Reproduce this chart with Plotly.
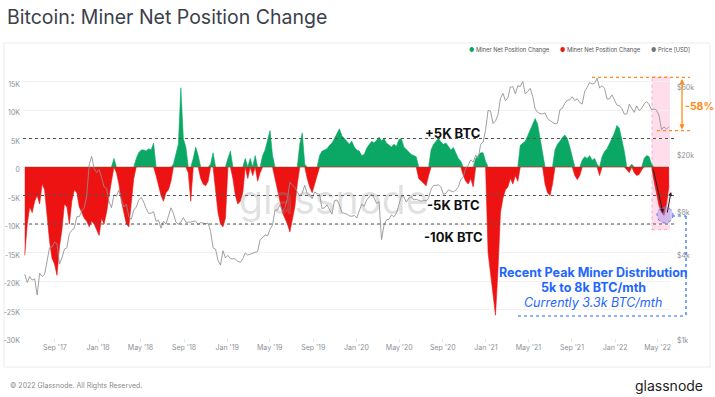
import plotly.graph_objects as go
import pandas as pd

# ---------------- data (weekly, starting 2017-06-08) ----------------
start_date = "2017-06-08"

# Miner net position change, thousands of BTC (30d change)
net_position_k = [
    -15.5, -10, -7, -8, -6, -5, -6.5, -3, -4,
    -9, -13, -16, -17, -19, -14, -11,
    -6.5, -7, -10, -6, -4, -4.5,
    -7, -8, -9, -9.5, -10.5, -9.5, -10, -11, -12, -9, -10, -8, -5,
    -2.5, 1.5, -1, -3, -6, -8, -10, -10.5, -6, -2,
    1.5, 2.5, 3, 3, 2.8, 3.2, 3, 4.2,
    -1.5, -3.5, -5, -6, -4.5, -4, -2.5, 0.5,
    2.5, 4, 13.9, 5, 3.5, -1, -6,
    1.5, 3.5, 2,
    -2, -3, -3.3, -2.5, 0.5,
    2.5,
    -4, -8, -10, -10.5, -9,
    1.5, 2.8,
    -2, -5, -6.5, -6, -4.5,
    1.5, -2, 1.5, -1.5, 2, -2.5, -1,
    2, 3, 4.5, 6.4, 2,
    -2, -4, -6, -8, -9, -10, -11.4, -9, -7, -3,
    4, 6, 0.5,
    -2, -3.5, -4.5, -3, -1.5,
    2, 2.8, 3, 3.2, 3.8, 4.2, 5, 5.8, 6.7, 5.5, 5, 4.5, 4, 4.5, 3.5, 3, 2.8,
    2, 2.2, 3.3, 4, 4.5, 4.2, 4.8, 5.2, 4.6, 5, 4.2, 3.8, 3.5, 4, 3.6, 4.8, 5, 3.5, 3, 2.5, 2.2, 2, 1.8,
    -2, -2.5, -3, -3.3, -1.5,
    3, 4, 4.5, 5, 4.4, 4, 4.2, 3.5, 3, 3.4, 2.5, 1.5,
    1, -1.5, -2.5, -3, -2, -3.5, 1.5, 2, 2.5, 2.5, 1,
    -15, -19, -22, -26, -18, -8, -5.5, -4, -3.5,
    -2, -3, -1.5, -2.5,
    3.8, 4.2, 4.5, 5.5, 6.5, 7.5, 8.5, 7.5, 5, 2,
    -3, -4.5, -5, -3,
    3, 4, 4.5, 5.2, 5.6, 5, 3.5, 1.5,
    -1.5, -2.2, -1.5,
    1.2, 1.8, 1.5, 2, 1.2, 1.5, 0.5, -1.5,
    1.8, 2.7, 3.2, 4, 5, 6, 7.3, 6.8, 5, 2.7,
    -0.5, -1, 0.5, -1, -1.5, -1.3, -0.5,
    1.5, 2, 1.8, 0.5,
    -2.5, -5, -6.8, -8, -8.5, -6.5, -3.3,
]

# BTC price (USD), weekly
price_usd = [
    # 2017
    2800, 2450, 2700, 2550, 2600, 2000, 2850, 2700, 2800, 3400, 4300, 4350, 4700,
    4600, 3300, 3650, 4200, 4300, 5400, 5700, 5900, 7100, 7100, 7800, 8200, 9900,
    16500, 18800, 15500, 14500,
    # 2018
    15200, 13400, 11500, 11200, 9100, 8200, 10100, 9900, 10900, 9400, 8300, 8700, 7100,
    6800, 7900, 8300, 9300, 9700, 9000, 8100, 7500, 7500, 7700, 6600, 6700, 5900,
    6600, 6300, 7300, 8200, 7500, 6500, 6300, 6500, 7000, 6500, 6500, 6500, 6600,
    6600, 6250, 6450, 6400, 6350, 6400, 5600, 4300, 4200, 3500, 3250, 4100, 3650,
    # 2019
    3800, 3600, 3600, 3580, 3450, 3400, 3600, 3950, 3820, 3870, 3900, 4000, 4050,
    4900, 5050, 5300, 5200, 5800, 6200, 7900, 7900, 8600, 7800, 8200, 9500, 12400,
    11900, 11400, 10600, 9900, 10400, 11800, 10300, 10100, 9500, 10600, 10300, 10200, 8100,
    8200, 8600, 8000, 7400, 9200, 9300, 8600, 7600, 7500, 7400, 7200, 7150, 7250,
    # 2020
    6950, 7800, 8700, 8400, 9300, 9750, 10200, 9600, 8800, 9050, 4900, 6200, 6750,
    6800, 7300, 7100, 7500, 8600, 9900, 9800, 9000, 9600, 9800, 9300, 9400, 9250,
    9100, 9250, 9150, 9600, 11100, 11750, 11750, 11850, 11450, 10200, 10350, 10950, 10750,
    10600, 10900, 11500, 12950, 13500, 15600, 16300, 17800, 17100, 19200, 18200, 22800, 23700, 29000,
    # 2021
    39500, 39200, 32000, 33400, 36900, 47900, 52100, 46300, 48400, 57700, 58000, 51700,
    59000, 58100, 63100, 51700, 53600, 56500, 49700, 40600, 38300, 37500, 37400, 38000, 34700,
    33500, 32800, 31800, 32100, 40000, 40900, 44400, 46700, 46800, 49300, 46400, 47700, 44900,
    43800, 53800, 57400, 62200, 60600, 61400, 66500, 56900, 58900, 56500, 47600, 47600, 50800, 47100,
    # 2022
    43100, 42600, 40700, 37200, 37300, 43600, 40500, 38300, 42500, 39400, 40900, 44000,
    45500, 43500, 39900, 40500, 39700, 36500, 28900, 30300, 29200, 30400,
]

x_tick_vals = ["2017-09-01", "2018-01-01", "2018-05-01", "2018-09-01", "2019-01-01",
               "2019-05-01", "2019-09-01", "2020-01-01", "2020-05-01", "2020-09-01",
               "2021-01-01", "2021-05-01", "2021-09-01", "2022-01-01", "2022-05-01"]
x_tick_text = ["Sep '17", "Jan '18", "May '18", "Sep '18", "Jan '19", "May '19", "Sep '19",
               "Jan '20", "May '20", "Sep '20", "Jan '21", "May '21", "Sep '21", "Jan '22", "May '22"]
y_tick_vals = [-30000, -25000, -20000, -15000, -10000, -5000, 0, 5000, 10000, 15000, 20000]
y_tick_text = ["-30K", "-25K", "-20K", "-15K", "-10K", "-5K", "0", "5K", "10K", "15K", ""]
price_tick_vals = [1000, 4000, 8000, 20000, 60000]
price_tick_text = ["$1k", "$4k", "$8k", "$20k", "$60k"]

threshold_levels = [5000, -5000, -10000]
threshold_labels = ["+5K BTC", "-5K BTC", "-10K BTC"]
price_ath = 67500
price_now = 28500

# ---------------- figure ----------------
GREEN = "#0aa864"
RED = "#ee1313"
GRAY_LINE = "#8f8f8f"
BLUE = "#1f66ff"
ORANGE = "#ff8c1a"
FONT = "Inter"

dates = pd.date_range(start_date, periods=len(net_position_k), freq="7D")
pos = [max(v, 0) * 1000 for v in net_position_k]
neg = [min(v, 0) * 1000 for v in net_position_k]

fig = go.Figure()
fig.add_trace(go.Scatter(x=dates, y=pos, mode="lines", fill="tozeroy",
                         line=dict(color=GREEN, width=0.6), fillcolor=GREEN,
                         name="Miner Net Position Change", showlegend=False, hoverinfo="skip"))
fig.add_trace(go.Scatter(x=dates, y=neg, mode="lines", fill="tozeroy",
                         line=dict(color=RED, width=0.6), fillcolor=RED,
                         name="Miner Net Position Change", showlegend=False, hoverinfo="skip"))
fig.add_trace(go.Scatter(x=dates[:len(price_usd)], y=price_usd, mode="lines", yaxis="y2",
                         line=dict(color=GRAY_LINE, width=0.85),
                         name="Price [USD]", showlegend=False, hoverinfo="skip"))

W, H = 715, 397
L, R, T, B = 23, 45, 53, 59
pw, ph = W - L - R, H - T - B


def px(x):
    return (x - L) / pw


def py(y):
    return (H - B - y) / ph


shapes = []
# card border
shapes.append(dict(type="rect", xref="paper", yref="paper", x0=px(4), x1=px(710), y0=py(367), y1=py(43),
                   line=dict(color="#ebebeb", width=1), layer="below"))
# pink highlight region
shapes.append(dict(type="rect", xref="x", yref="y", x0="2022-04-15", x1="2022-06-07", y0=-11000, y1=15800,
                   fillcolor="rgba(255,120,175,0.25)", line=dict(color="rgba(255,110,170,0.55)", width=1, dash="dot"),
                   layer="below"))
# threshold dashed lines
for lvl in threshold_levels:
    shapes.append(dict(type="line", xref="paper", yref="y", x0=0.0, x1=1.01, y0=lvl, y1=lvl,
                       line=dict(color="#555555", width=1.2, dash="3px,3px"), layer="above"))
# orange dashed lines (ATH and current)
shapes.append(dict(type="line", xref="paper", yref="y2", x0=px(592), x1=px(690), y0=price_ath, y1=price_ath,
                   line=dict(color=ORANGE, width=1.3, dash="3px,3px")))
shapes.append(dict(type="line", xref="paper", yref="y2", x0=px(657), x1=px(690), y0=price_now, y1=price_now,
                   line=dict(color=ORANGE, width=1.3, dash="3px,3px")))
# blue dotted bracket
bcol = dict(color=BLUE, width=1.2, dash="dot")
shapes.append(dict(type="line", xref="paper", yref="paper", x0=px(672), x1=px(686), y0=py(216), y1=py(216), line=bcol))
shapes.append(dict(type="line", xref="paper", yref="paper", x0=px(686), x1=px(686), y0=py(216), y1=py(316), line=bcol))
shapes.append(dict(type="line", xref="paper", yref="paper", x0=px(518), x1=px(686), y0=py(316), y1=py(316), line=bcol))
# circle
shapes.append(dict(type="circle", xref="paper", yref="paper", x0=px(657), x1=px(673), y0=py(223), y1=py(207),
                   fillcolor="rgba(150,140,235,0.45)", line=dict(color="#6f6ff0", width=1, dash="dot")))

ann = []
ann.append(dict(text="Bitcoin: Miner Net Position Change", xref="paper", yref="paper", x=px(5), y=py(17),
                xanchor="left", yanchor="middle", showarrow=False,
                font=dict(family=FONT, size=19.5, color="#3b404b")))
# legend
legend_items = [("Miner Net Position Change", GREEN, 467), ("Miner Net Position Change", RED, 558),
                ("Price [USD]", "#777777", 649)]
for label, col, xl in legend_items:
    ann.append(dict(text=f'<span style="color:{col}">●</span> {label}', xref="paper", yref="paper",
                    x=px(xl), y=py(50), xanchor="left", yanchor="middle", showarrow=False,
                    font=dict(family=FONT, size=5.8, color="#555555")))
# watermark
ann.append(dict(text="glassnode", xref="paper", yref="paper", x=px(333), y=py(199), xanchor="center",
                yanchor="middle", showarrow=False, font=dict(family=FONT, size=39, color="rgba(150,150,150,0.28)")))
# threshold labels
for lab, yy in zip(threshold_labels, [133, 205, 237]):
    ann.append(dict(text=f"<b>{lab}</b>", xref="paper", yref="paper", x=px(453), y=py(yy), xanchor="center",
                    yanchor="middle", showarrow=False, font=dict(family=FONT, size=13, color="#111111")))
# blue text
ann.append(dict(text="<b>Recent Peak Miner Distribution</b>", xref="paper", yref="paper", x=px(593), y=py(272),
                xanchor="center", yanchor="middle", showarrow=False, font=dict(family=FONT, size=12.5, color=BLUE)))
ann.append(dict(text="<b>5k to 8k BTC/mth</b>", xref="paper", yref="paper", x=px(593), y=py(287),
                xanchor="center", yanchor="middle", showarrow=False, font=dict(family=FONT, size=12.5, color=BLUE)))
ann.append(dict(text="<i>Currently 3.3k BTC/mth</i>", xref="paper", yref="paper", x=px(593), y=py(302),
                xanchor="center", yanchor="middle", showarrow=False, font=dict(family=FONT, size=12.5, color=BLUE)))
# -58%
ann.append(dict(text="<b>-58%</b>", xref="paper", yref="paper", x=px(684), y=py(106), xanchor="left",
                yanchor="middle", showarrow=False, borderpad=0, font=dict(family=FONT, size=10.5, color=ORANGE)))
# orange vertical arrow
ann.append(dict(text="", xref="paper", yref="paper", x=px(682), y=py(79), ax=0, ay=52, showarrow=True,
                arrowhead=2, arrowside="end+start", arrowsize=0.8, arrowwidth=1.3, arrowcolor=ORANGE))
# black arrows
ann.append(dict(text="", xref="paper", yref="paper", x=px(663), y=py(213), ax=-10, ay=-45, showarrow=True,
                arrowhead=2, arrowsize=0.8, arrowwidth=1, arrowcolor="#222222"))
ann.append(dict(text="", xref="paper", yref="paper", x=px(671), y=py(192), ax=-4, ay=22, showarrow=True,
                arrowhead=2, arrowsize=0.8, arrowwidth=1, arrowcolor="#222222"))
# footer
ann.append(dict(text="© 2022 Glassnode. All Rights Reserved.", xref="paper", yref="paper", x=px(8), y=py(385),
                xanchor="left", yanchor="middle", showarrow=False, font=dict(family=FONT, size=7, color="#8a8a8a")))
ann.append(dict(text="glassnode", xref="paper", yref="paper", x=px(705), y=py(385), xanchor="right",
                yanchor="middle", showarrow=False, font=dict(family=FONT, size=14, color="#222222")))

tickfont = dict(family=FONT, size=7, color="#8c9099")
fig.update_layout(
    width=W, height=H, margin=dict(l=L, r=R, t=T, b=B, autoexpand=False),
    paper_bgcolor="white", plot_bgcolor="white", hovermode=False, showlegend=False,
    xaxis=dict(type="date", range=["2017-06-03", "2022-06-05"], tickvals=x_tick_vals, ticktext=x_tick_text,
               showgrid=False, zeroline=False, showline=False, ticks="outside", ticklen=3, tickcolor="#e6e6e6",
               tickfont=tickfont, automargin=False),
    yaxis=dict(range=[-30000, 20000], tickvals=y_tick_vals, ticktext=y_tick_text, gridcolor="#f1f1f1",
               gridwidth=1, zeroline=False, showline=False, ticks="", tickfont=tickfont,
               ticklabelposition="outside", ticklabelshift=3, ticklabelstandoff=2, automargin=False),
    yaxis2=dict(type="log", range=[3, 5], overlaying="y", side="right", tickvals=price_tick_vals,
                ticktext=price_tick_text, showgrid=False, zeroline=False, showline=False, ticks="",
                tickfont=tickfont, ticklabelposition="outside", ticklabelshift=3, ticklabelstandoff=6,
                automargin=False),
    shapes=shapes, annotations=ann,
)

fig.write_html("out.html", config={"displayModeBar": False},
               post_script="document.body.style.margin='0';document.body.style.padding='0';"
                           "document.body.style.overflow='hidden';")
